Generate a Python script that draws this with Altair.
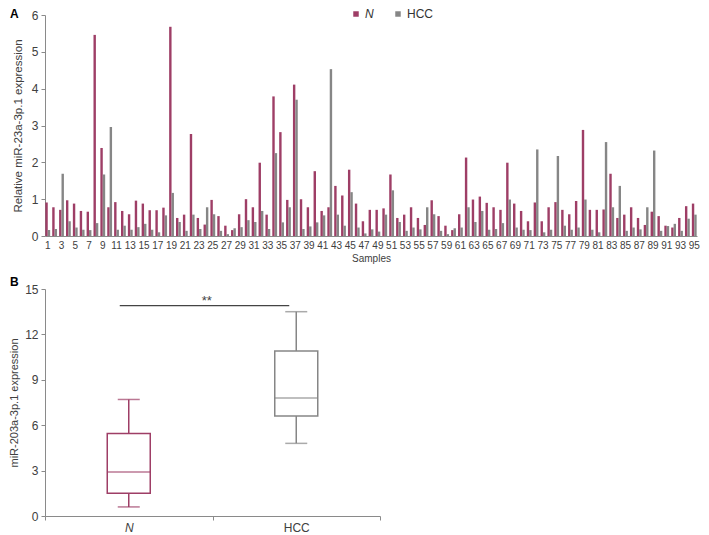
import altair as alt
import pandas as pd

# ---------------- data ----------------
samples = list(range(1, 96))
n_vals = [0.91, 0.78, 0.71, 0.97, 0.88, 0.68, 0.66, 5.46, 2.39, 0.78,
          0.92, 0.68, 0.59, 0.96, 0.88, 0.70, 0.70, 0.77, 5.68, 0.49,
          0.58, 2.77, 0.49, 0.31, 0.98, 0.54, 0.28, 0.16, 0.59, 1.00,
          0.78, 1.99, 0.58, 3.79, 2.82, 0.98, 4.11, 1.00, 0.78, 1.76,
          0.68, 0.78, 1.36, 1.10, 1.80, 0.88, 0.40, 0.71, 0.71, 0.75,
          1.67, 0.49, 0.58, 0.78, 0.49, 0.30, 0.97, 0.54, 0.28, 0.16,
          0.59, 2.13, 0.99, 1.07, 0.90, 0.78, 0.71, 1.99, 0.88, 0.68,
          0.40, 0.91, 0.40, 0.78, 0.92, 0.71, 0.59, 0.95, 2.88, 0.71,
          0.71, 0.72, 1.69, 0.49, 0.58, 0.78, 0.49, 0.30, 0.66, 0.54,
          0.28, 0.23, 0.49, 0.81, 0.88]
hcc_vals = [0.16, 0.19, 1.69, 0.40, 0.23, 0.17, 0.16, 0.35, 1.67, 2.96,
            0.17, 0.28, 0.17, 0.24, 0.33, 0.17, 0.10, 0.56, 1.17, 0.38,
            0.14, 0.58, 0.19, 0.78, 0.59, 0.14, 0.05, 0.21, 0.24, 0.43,
            0.38, 0.68, 0.19, 2.25, 0.37, 0.78, 3.70, 0.19, 0.26, 0.37,
            0.56, 4.53, 0.58, 0.28, 1.19, 0.23, 0.07, 0.18, 0.12, 0.58,
            1.24, 0.38, 0.14, 0.23, 0.18, 0.78, 0.59, 0.14, 0.05, 0.21,
            0.23, 0.78, 0.38, 0.68, 0.17, 0.19, 0.35, 0.99, 0.23, 0.17,
            0.16, 2.35, 0.10, 0.17, 2.17, 0.28, 0.17, 0.23, 0.99, 0.17,
            0.10, 2.55, 0.78, 1.36, 0.14, 0.23, 0.18, 0.78, 2.32, 0.14,
            0.27, 0.33, 0.14, 0.47, 0.58]
groups = ["N", "HCC"]
colors = ["#9e3e66", "#868686"]

box_groups = ["N", "HCC"]
box_low = [0.6, 4.8]
box_q1 = [1.5, 6.6]
box_median = [2.9, 7.8]
box_q3 = [5.45, 10.9]
box_high = [7.7, 13.5]
sig_y = [13.9]
sig_text = ["**"]
panel_letters = ["A", "B"]

# ---------------- tables ----------------
dfA = pd.DataFrame({
    "Sample": samples * 2,
    "Group": ["N"] * len(samples) + ["HCC"] * len(samples),
    "Value": n_vals + hcc_vals,
})
dfB = pd.DataFrame({
    "Group": box_groups, "low": box_low, "q1": box_q1,
    "median": box_median, "q3": box_q3, "high": box_high,
})
dfSig = pd.DataFrame({"from": ["N"], "to": ["HCC"], "y": sig_y, "label": sig_text})
dfLetterA = pd.DataFrame({"t": [panel_letters[0]]})
dfLetterB = pd.DataFrame({"t": [panel_letters[1]]})

font = "Liberation Sans"
label_color = "#404040"
axis_color = "#8a8a8a"
color_scale = alt.Scale(domain=groups, range=colors)

# ---------------- panel A ----------------
barsA = alt.Chart(dfA).mark_bar().encode(
    x=alt.X("Sample:O",
            scale=alt.Scale(paddingInner=0.3, paddingOuter=0.05),
            axis=alt.Axis(values=list(range(1, 96, 2)), labelAngle=0, ticks=False,
                          labelOverlap=False, labelFontSize=10, labelPadding=4,
                          title="Samples", titleFontSize=10, titleFontWeight="normal",
                          titlePadding=3)),
    xOffset=alt.XOffset("Group:N", sort=groups, scale=alt.Scale(domain=groups)),
    y=alt.Y("Value:Q", scale=alt.Scale(domain=[0, 6], nice=False),
            axis=alt.Axis(values=[0, 1, 2, 3, 4, 5, 6], grid=False, tickSize=4,
                          labelFontSize=12, labelPadding=3,
                          title="Relative  miR-23a-3p.1  expression",
                          titleFontSize=11.5, titleFontWeight="normal", titlePadding=8)),
    color=alt.Color("Group:N", scale=color_scale, sort=groups,
                    legend=alt.Legend(orient="none", legendX=305, legendY=-7,
                                      direction="horizontal", title=None,
                                      symbolType="square", symbolSize=30,
                                      symbolStrokeWidth=0,
                                      labelFontSize=12, columnPadding=18, labelOffset=3,
                                      labelFontStyle=alt.ExprRef(
                                          expr="datum.label == 'N' ? 'italic' : 'normal'"))),
)
letterA = alt.Chart(dfLetterA).mark_text(
    align="left", baseline="middle", fontSize=12, fontWeight="bold", color="#000000"
).encode(x=alt.value(-35), y=alt.value(-1), text="t:N")

panelA = alt.layer(barsA, letterA).properties(width=652, height=221)

# ---------------- panel B ----------------
xB = alt.X("Group:N", sort=box_groups,
           scale=alt.Scale(domain=box_groups, paddingInner=0, paddingOuter=0),
           axis=alt.Axis(title=None, tickBand="extent", tickSize=4, labelAngle=0,
                         labelFontSize=12, labelPadding=2,
                         labelFontStyle={"condition": {"test": "datum.value == 'N'",
                                                       "value": "italic"},
                                         "value": "normal"}))
yB = alt.Y("low:Q", scale=alt.Scale(domain=[0, 15], nice=False),
           axis=alt.Axis(values=[0, 3, 6, 9, 12, 15], grid=False, tickSize=4,
                         labelFontSize=12, labelPadding=3,
                         title="miR-203a-3p.1 expression", titleFontSize=11,
                         titleFontWeight="normal", titlePadding=5))
strokeB = alt.Stroke("Group:N", scale=color_scale, legend=None)
colorB = alt.Color("Group:N", scale=color_scale, legend=None)

baseB = alt.Chart(dfB)
whisk = baseB.mark_rule(strokeWidth=1.5).encode(x=xB, y=yB, y2="high:Q", color=colorB)
box = baseB.mark_bar(size=43, fill="white", strokeWidth=1.5).encode(
    x=xB, y="q1:Q", y2="q3:Q", stroke=strokeB)
med = baseB.mark_tick(size=43, thickness=1.5).encode(x=xB, y="median:Q", color=colorB)
cap_lo = baseB.mark_tick(size=22, thickness=1.5).encode(x=xB, y="low:Q", color=colorB)
cap_hi = baseB.mark_tick(size=22, thickness=1.5).encode(x=xB, y="high:Q", color=colorB)

sig_base = alt.Chart(dfSig)
sig_line = sig_base.mark_rule(color="#444444", strokeWidth=1.3, xOffset=-9, x2Offset=-7).encode(
    x=alt.X("from:N", scale=alt.Scale(domain=box_groups)), x2="to:N", y="y:Q")
sig_lab = sig_base.mark_text(dx=78, dy=2, baseline="bottom", fontSize=13,
                             color="#444444").encode(
    x=alt.X("from:N"), y="y:Q", text="label:N")

letterB = alt.Chart(dfLetterB).mark_text(
    align="left", baseline="middle", fontSize=12, fontWeight="bold", color="#000000"
).encode(x=alt.value(-35), y=alt.value(-7), text="t:N")

panelB = alt.layer(whisk, box, med, cap_lo, cap_hi, sig_line, sig_lab, letterB).properties(
    width=335, height=227,
)

chart = alt.vconcat(panelA, panelB, spacing=13).properties(
    padding=0
).configure(font=font).configure_view(stroke=None).configure_axis(
    domainColor=axis_color, tickColor=axis_color, labelColor=label_color,
    titleColor=label_color, labelFont=font, titleFont=font
).configure_legend(labelColor="#333333")

chart.save("out.html", embed_options={"renderer": "svg", "actions": False})
